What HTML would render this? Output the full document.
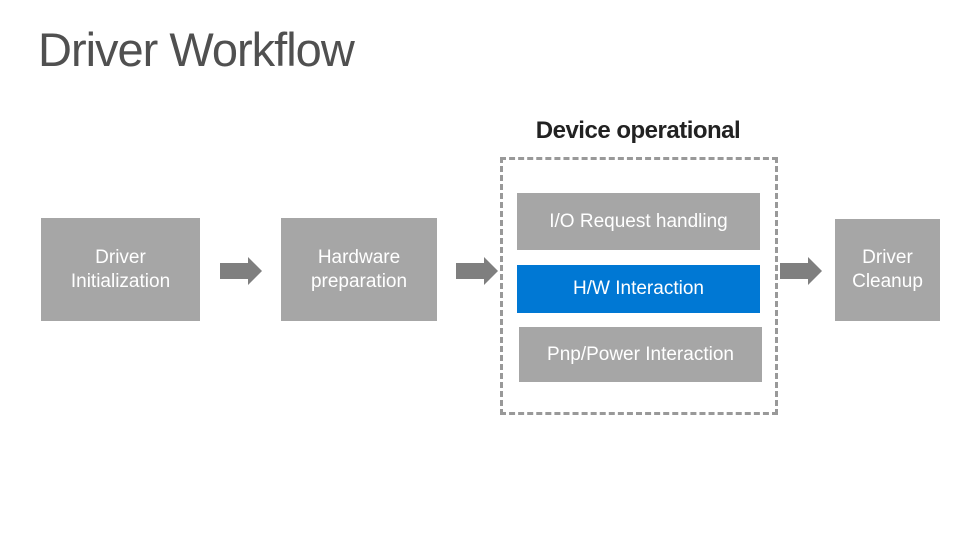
<!DOCTYPE html><html><head><style>
body{margin:0;width:979px;height:551px;background:#fff;position:relative;overflow:hidden;font-family:"Liberation Sans",sans-serif}
.a{position:absolute}
.b{position:absolute;background:#a6a6a6;color:#fff;display:flex;align-items:center;justify-content:center;text-align:center;font-size:19px;line-height:24px}
</style></head><body>
<div class="a" style="left:38px;top:22px;font-size:47px;color:#505050;letter-spacing:-1px">Driver Workflow</div>
<div class="a" style="left:500px;top:117px;width:276px;text-align:center;font-size:24px;font-weight:bold;color:#222;letter-spacing:-0.5px">Device operational</div>
<div class="b" style="left:41px;top:218px;width:159px;height:103px">Driver<br>Initialization</div>
<div class="b" style="left:281px;top:218px;width:156px;height:103px">Hardware<br>preparation</div>
<div class="a" style="left:500px;top:157px;width:272px;height:252px;border:3px dashed #999"></div>
<div class="b" style="left:517px;top:193px;width:243px;height:57px">I/O Request handling</div>
<div class="b" style="left:517px;top:265px;width:243px;height:48px;background:#0078d4">H/W Interaction</div>
<div class="b" style="left:519px;top:327px;width:243px;height:55px">Pnp/Power Interaction</div>
<div class="b" style="left:835px;top:219px;width:105px;height:102px">Driver<br>Cleanup</div>
<svg class="a" style="left:0;top:0" width="979" height="551">
<g fill="#7f7f7f">
<polygon points="220,263 248,263 248,257 262,271 248,285 248,279 220,279"/>
<polygon points="456,263 484,263 484,257 498,271 484,285 484,279 456,279"/>
<polygon points="780,263 808,263 808,257 822,271 808,285 808,279 780,279"/>
</g></svg>
</body></html>
